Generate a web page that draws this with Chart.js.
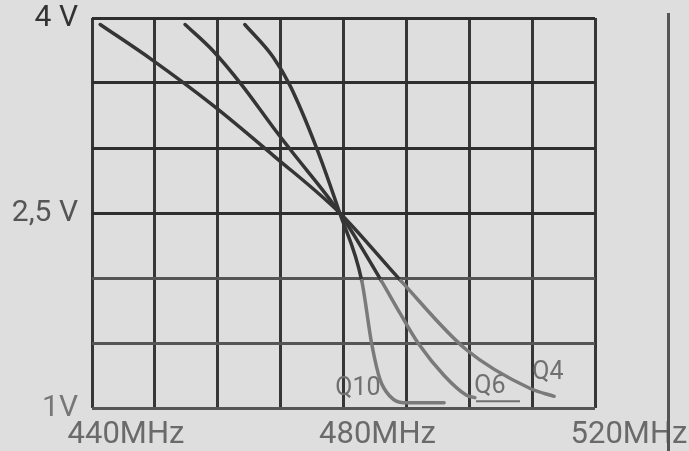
<!DOCTYPE html>
<html>
<head>
<meta charset="utf-8">
<script src="https://cdn.jsdelivr.net/npm/chart.js@4"></script>
<style>
  body { margin: 0; background: #dedede; }
  #wrap { position: relative; width: 689px; height: 451px; }
  #edge { position: absolute; left: 667px; top: 13px; width: 3px; height: 438px; background: #555; }
</style>
</head>
<body>
<div id="wrap">
  <canvas id="myChart" width="689" height="451"></canvas>
  <div id="edge"></div>
</div>
<script>
// frequency (MHz) / voltage (V)
const q4Freq = [441.3, 449.5, 459.2, 468.9, 479.4, 489.1, 499.5, 509.7, 513.5];
const q4Volt = [3.95, 3.68, 3.33, 2.94, 2.5, 1.98, 1.45, 1.15, 1.09];

const q6Freq = [454.8, 459.2, 463.9, 468.8, 471.5, 479.4, 486.0, 489.1, 492.0, 496.0, 499.5, 500.9];
const q6Volt = [3.95, 3.75, 3.48, 3.16, 2.99, 2.5, 1.98, 1.72, 1.49, 1.25, 1.10, 1.08];

const q10Freq = [464.3, 468.8, 471.5, 475.8, 479.4, 482.9, 484.5, 485.8, 487.4, 489.5, 496.0];
const q10Volt = [3.95, 3.70, 3.48, 2.99, 2.5, 1.98, 1.49, 1.22, 1.09, 1.04, 1.04];

const curveNames = ["Q10", "Q6", "Q4"];
const nameFreq = [482.3, 503.3, 512.5];
const nameVolt = [1.15, 1.16, 1.27];

const xLabels = {440: "440MHz", 480: "480MHz", 520: "520MHz"};
const yLabels = {4: "4 V", 2.5: "2,5 V", 1: "1V"};

function pts(xs, ys) {
    return xs.map((x, i) => ({x: x, y: ys[i]}));
}

// upper halves of the curves came out darker in the print
const shade = ctx => ctx.p0.parsed.y > 2.45 ? "#353535" : "#7a7a7a";

function curve(label, xs, ys) {
    return {
        label: label,
        data: pts(xs, ys),
        borderColor: "#4a4a4a",
        borderWidth: 3.5,
        pointRadius: 0,
        cubicInterpolationMode: "monotone",
        borderCapStyle: "round",
        segment: { borderColor: shade }
    };
}

const curveNamesPlugin = {
    id: "curveNames",
    afterDatasetsDraw(chart) {
        const c = chart.ctx, xs = chart.scales.x, ys = chart.scales.y;
        c.save();
        c.font = "25px Roboto";
        c.fillStyle = "#707070";
        c.strokeStyle = "#707070";
        c.textAlign = "center";
        c.textBaseline = "middle";
        curveNames.forEach((n, i) => {
            const px = xs.getPixelForValue(nameFreq[i]);
            const py = ys.getPixelForValue(nameVolt[i]);
            c.fillText(n, px, py);
            if (n === "Q6") {
                c.lineWidth = 2;
                c.beginPath();
                c.moveTo(px - 14, py + 14);
                c.lineTo(px + 30, py + 14);
                c.stroke();
            }
        });
        c.restore();
    }
};

let myChart = document.getElementById("myChart").getContext("2d");

new Chart(myChart, {
    type: "line",
    data: {
        datasets: [
            curve("Q4", q4Freq, q4Volt),
            curve("Q6", q6Freq, q6Volt),
            curve("Q10", q10Freq, q10Volt)
        ]
    },
    options: {
        responsive: false,
        animation: false,
        layout: { padding: { top: 18, right: 94, left: 0, bottom: 0 } },
        plugins: {
            legend: { display: false },
            tooltip: { enabled: false }
        },
        scales: {
            x: {
                type: "linear",
                min: 440,
                max: 520,
                border: { display: false },
                grid: { color: "#363636", lineWidth: 3, drawTicks: false },
                ticks: {
                    stepSize: 10,
                    autoSkip: false,
                    maxRotation: 0,
                    padding: 9,
                    labelOffset: 34,
                    color: "#6a6a6a",
                    font: { family: "Roboto", size: 31 },
                    callback: v => xLabels[v] || ""
                },
                afterFit: s => { s.height = 43; s.paddingLeft = 0; s.paddingRight = 0; }
            },
            y: {
                min: 1,
                max: 4,
                border: { display: false },
                grid: {
                    lineWidth: 3,
                    drawTicks: false,
                    color: ctx => ctx.tick.value >= 2.5 ? "#2e2e2e" : "#555555"
                },
                ticks: {
                    stepSize: 0.5,
                    autoSkip: false,
                    padding: 14,
                    color: ctx => ctx.tick.value > 3 ? "#333" : (ctx.tick.value > 2 ? "#555" : "#777"),
                    font: { family: "Roboto", size: 30 },
                    callback: v => yLabels[v] || ""
                },
                afterFit: s => { s.width = 92; s.paddingTop = 0; s.paddingBottom = 0; }
            }
        }
    },
    plugins: [curveNamesPlugin]
});
</script>
</body>
</html>
